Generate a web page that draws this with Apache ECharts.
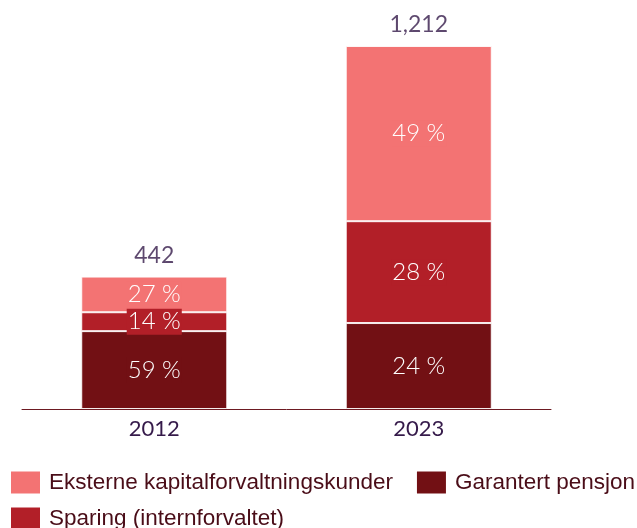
<!DOCTYPE html>
<html>
<head>
<meta charset="utf-8">
<script src="https://cdn.jsdelivr.net/npm/echarts@6/dist/echarts.min.js"></script>
<style>
  html, body { margin: 0; padding: 0; background: #fff; }
  #chart { width: 637px; height: 528px; }
</style>
</head>
<body>
<div id="chart"></div>
<script>
const years = ['2012', '2023'];
const garantert = [260, 287];
const sparing = [63, 340];
const eksterne = [119, 585];
const totals = [442, 1212];
const totalLabels = ['442', '1,212'];
const garantertPct = ['59 %', '24 %'];
const sparingPct = ['14 %', '28 %'];
const eksternePct = ['27 %', '49 %'];

const colors = { light: '#f37373', mid: '#b21f28', dark: '#721014' };
const purple = '#351a4a';
const numberFont = 'Lato, sans-serif';

const chart = echarts.init(document.getElementById('chart'), null, { renderer: 'canvas' });

const segment = (name, data, labels, color) => ({
  name,
  type: 'bar',
  stack: 'total',
  barWidth: 146,
  data,
  itemStyle: { color, borderColor: 'rgba(255,255,255,0.85)', borderWidth: 1 },
  label: {
    show: true,
    position: 'inside',
    formatter: (p) => labels[p.dataIndex],
    color: '#fff',
    fontFamily: numberFont,
    fontWeight: 300,
    fontSize: 24,
    backgroundColor: color,
    padding: [1, 1]
  },
  emphasis: { disabled: true }
});

const legendBase = {
  left: 6,
  width: 640,
  itemWidth: 29,
  itemHeight: 22,
  itemGap: 24,
  icon: 'rect',
  itemStyle: { borderWidth: 0 },
  textStyle: { color: '#4a0d18', fontSize: 22.5, fontFamily: 'Liberation Sans, Arial, sans-serif', padding: [0, 0, 0, 4] }
};

chart.setOption({
  animation: false,
  backgroundColor: '#fff',
  grid: { left: 22, right: 86, top: 46, bottom: 119, containLabel: false },
  legend: [
    { ...legendBase, top: 466, data: ['Eksterne kapitalforvaltningskunder', 'Garantert pensjon'] },
    { ...legendBase, top: 502, data: ['Sparing (internforvaltet)'] }
  ],
  xAxis: {
    type: 'category',
    data: years,
    axisLine: { lineStyle: { color: '#6d1a22', width: 1 } },
    axisTick: { show: false },
    axisLabel: { color: purple, fontSize: 22, fontFamily: numberFont, margin: 9 }
  },
  yAxis: {
    type: 'value',
    min: 0,
    max: 1212,
    show: false,
    splitLine: { show: false }
  },
  series: [
    segment('Garantert pensjon', garantert, garantertPct, colors.dark),
    segment('Sparing (internforvaltet)', sparing, sparingPct, colors.mid),
    segment('Eksterne kapitalforvaltningskunder', eksterne, eksternePct, colors.light),
    {
      name: 'Sum',
      type: 'scatter',
      data: totals,
      symbolSize: 1,
      itemStyle: { color: 'rgba(0,0,0,0)' },
      label: {
        show: true,
        position: 'top',
        distance: 9,
        formatter: (p) => totalLabels[p.dataIndex],
        color: purple,
        fontSize: 23,
        fontFamily: numberFont
      },
      silent: true
    }
  ]
});
</script>
</body>
</html>
